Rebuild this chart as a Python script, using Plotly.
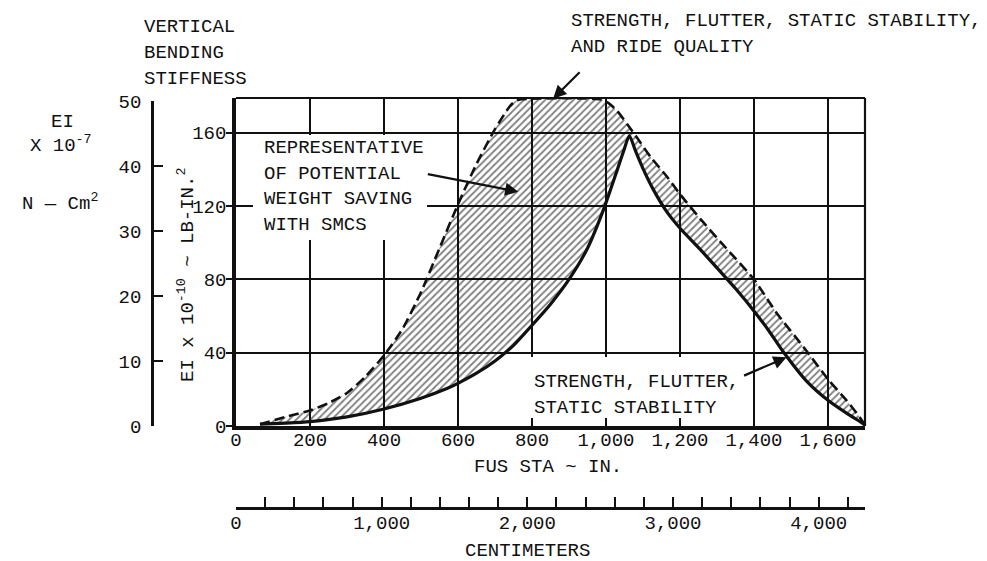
import plotly.graph_objects as go

# ---- data -------------------------------------------------------------
# Fuselage station (in) vs. vertical bending stiffness EI (x 10^-10 lb-in^2)
# Upper envelope: strength, flutter, static stability and ride quality
sta_upper = [65, 135, 200, 250, 300, 350, 400, 450, 500, 550, 600, 650, 700, 740, 755,
             770, 985, 1005, 1030, 1060, 1085, 1120, 1165, 1200, 1255, 1325, 1400,
             1460, 1540, 1600, 1650, 1685, 1700]
ei_upper = [1.0, 5.0, 8.5, 12.5, 18.0, 27.0, 38.5, 53.0, 73.0, 97.0, 121.0, 143.0,
            162.0, 174.5, 177.3, 178.3, 178.3, 176.5, 172.0, 164.0, 157.0, 147.0,
            136.0, 126.5, 113.0, 97.0, 80.0, 62.0, 41.5, 25.5, 14.0, 5.0, 0.5]

# Lower envelope: strength, flutter, static stability
sta_lower = [65, 135, 200, 300, 400, 500, 570, 600, 650, 700, 750, 800, 850, 900,
             950, 995, 1030, 1050, 1063, 1080, 1100, 1128, 1164, 1202, 1254, 1308,
             1350, 1403, 1440, 1479, 1542, 1600, 1650, 1690, 1700]
ei_lower = [1.0, 1.6, 2.4, 5.0, 9.3, 15.2, 20.5, 23.3, 28.8, 35.5, 44.0, 55.0, 66.5,
            80.0, 97.0, 119.0, 139.5, 151.5, 158.5, 150.0, 140.5, 129.0, 117.0, 107.5,
            96.5, 84.5, 75.0, 62.0, 52.0, 40.5, 24.5, 14.0, 7.0, 2.0, 0.5]

sta_ticks = [0, 200, 400, 600, 800, 1000, 1200, 1400, 1600]
ei_ticks = [0, 40, 80, 120, 160]
ei_si_ticks = [0, 10, 20, 30, 40, 50]
cm_ticks = list(range(0, 4201, 200))
cm_labelled = [0, 1000, 2000, 3000, 4000]

STA_MAX = 1700          # in
EI_MAX = 179            # x 10^-10 lb-in^2
EI_SI_MAX = 50          # x 10^-7 N-cm^2, at EI_SI_TOP on the lb-in^2 scale
EI_SI_TOP = 177.3
IN_TO_CM = 2.54

# arrow targets (station, EI)
tip_ride = (857, 178.6)
tip_saving = (763, 127.8)
tip_strength = (1488, 37.5)

# ---- page geometry (px) ----------------------------------------------
W, H = 987, 561
ML, MR, MT, MB = 152, 122, 98, 53
PW, PH = W - ML - MR, H - MT - MB
PLOT_L, PLOT_B = 236, 426


def px(x):
    return (x - ML) / PW


def py(y):
    return (H - MB - y) / PH


FONT = "Liberation Mono"
FS = 19
INK = "#111111"
CLEAR = "rgba(255,255,255,0)"

fig = go.Figure()

# hatched band between the two envelopes
fig.add_trace(go.Scatter(
    x=sta_upper + sta_lower[::-1], y=ei_upper + ei_lower[::-1],
    mode="lines", fill="toself", line=dict(width=0, shape="spline", smoothing=0.6),
    fillcolor=CLEAR,
    fillpattern=dict(shape="/", fgcolor="black", bgcolor=CLEAR,
                     size=5, solidity=0.36),
    hoverinfo="skip", showlegend=False))

fig.add_trace(go.Scatter(
    x=sta_upper, y=ei_upper, mode="lines",
    line=dict(color=INK, width=2.6, dash="10px,5px", shape="spline", smoothing=0.6),
    showlegend=False, hoverinfo="skip"))

fig.add_trace(go.Scatter(
    x=sta_lower, y=ei_lower, mode="lines",
    line=dict(color=INK, width=3.2, shape="spline", smoothing=0.6),
    showlegend=False, hoverinfo="skip"))

# carriers for the secondary scales
fig.add_trace(go.Scatter(x=[0, STA_MAX], y=[0, EI_SI_MAX], yaxis="y2", mode="markers",
                         marker=dict(opacity=0), hoverinfo="skip", showlegend=False))
fig.add_trace(go.Scatter(x=[0, STA_MAX * IN_TO_CM], y=[0, 0], xaxis="x2", mode="markers",
                         marker=dict(opacity=0), hoverinfo="skip", showlegend=False))

x_dom = [px(PLOT_L), 1]
y_dom = [py(PLOT_B), 1]
y2_top = y_dom[0] + (y_dom[1] - y_dom[0]) * EI_SI_TOP / EI_MAX

tickfont = dict(family=FONT, size=FS, color=INK)

fig.update_layout(
    width=W, height=H,
    margin=dict(l=ML, r=MR, t=MT, b=MB, autoexpand=False),
    paper_bgcolor="white", plot_bgcolor=CLEAR,
    font=dict(family=FONT, size=FS, color=INK),
    xaxis=dict(domain=x_dom, range=[0, STA_MAX], tickvals=sta_ticks, tickformat=",d",
               showgrid=True, gridcolor=INK, gridwidth=1.6,
               showline=True, linecolor=INK, linewidth=3.5,
               ticks="", ticklabelstandoff=-7, tickfont=tickfont,
               zeroline=False, anchor="y"),
    yaxis=dict(domain=y_dom, range=[0, EI_MAX], tickvals=ei_ticks,
               showgrid=True, gridcolor=INK, gridwidth=1.6,
               showline=True, linecolor=INK, linewidth=3.5,
               ticks="outside", ticklen=6, tickwidth=2, tickcolor=INK,
               ticklabelstandoff=-4,
               tickfont=tickfont, zeroline=False, anchor="x"),
    yaxis2=dict(domain=[y_dom[0], y2_top], range=[0, EI_SI_MAX], tickvals=ei_si_ticks,
                anchor="free", position=0, side="left",
                showgrid=False, zeroline=False,
                showline=True, linecolor=INK, linewidth=2.8,
                ticks="inside", ticklen=9, tickwidth=2, tickcolor=INK,
                ticklabelstandoff=6, tickfont=tickfont),
    xaxis2=dict(overlaying="x", anchor="free", position=0, side="bottom",
                range=[0, STA_MAX * IN_TO_CM], tickvals=cm_ticks,
                ticktext=[f"{v:,}" if v in cm_labelled else "" for v in cm_ticks],
                showgrid=False, zeroline=False,
                showline=True, linecolor=INK, linewidth=3,
                ticks="inside", ticklen=10, tickwidth=1.8, tickcolor=INK,
                ticklabelstandoff=-4, tickfont=tickfont),
)

# thinner top/right frame
fig.add_shape(type="line", xref="x domain", yref="y domain", x0=0, x1=1, y0=1, y1=1,
              line=dict(color=INK, width=2.2), layer="above")
fig.add_shape(type="line", xref="x domain", yref="y domain", x0=1, x1=1, y0=0, y1=1,
              line=dict(color=INK, width=2.2), layer="above")

# white backing behind the callout texts
for (x0, y0, x1, y1) in [(253, 135, 427, 240), (527, 357, 747, 418)]:
    fig.add_shape(type="rect", xref="paper", yref="paper",
                  x0=px(x0), x1=px(x1), y0=py(y1), y1=py(y0),
                  fillcolor="white", line=dict(width=0), layer="above")


def label(text, x, y, xanchor="left", angle=0):
    fig.add_annotation(text=text, xref="paper", yref="paper", x=px(x), y=py(y),
                       xanchor=xanchor, yanchor="middle", showarrow=False,
                       textangle=angle, font=dict(family=FONT, size=FS, color=INK))


for i, t in enumerate(["VERTICAL", "BENDING", "STIFFNESS"]):
    label(t, 142, 27 + 26 * i)
label("EI", 62, 122, "center")
label("X 10<sup>-7</sup>", 61, 144, "center")
label("N — Cm<sup>2</sup>", 60, 202, "center")
label("EI x 10<sup>-10</sup> ~ LB-IN.<sup>2</sup>", 186, 275, "center", -90)
label("FUS STA ~ IN.", 548, 467, "center")
label("CENTIMETERS", 527, 551, "center")

label("STRENGTH, FLUTTER, STATIC STABILITY,", 569, 21)
label("AND RIDE QUALITY", 569, 47)
for i, t in enumerate(["REPRESENTATIVE", "OF POTENTIAL", "WEIGHT SAVING", "WITH SMCS"]):
    label(t, 262, 148 + 25.7 * i)
label("STRENGTH, FLUTTER,", 532, 382)
label("STATIC STABILITY", 532, 408)


def arrow(tip, ax, ay):
    fig.add_annotation(x=tip[0], y=tip[1], xref="x", yref="y", text="",
                       showarrow=True, ax=ax, ay=ay, arrowhead=2, arrowsize=1.2,
                       arrowwidth=2.2, arrowcolor=INK, standoff=0)


arrow(tip_ride, 28, -28)
arrow(tip_saving, -92, -18)
arrow(tip_strength, -44, 19)

fig.write_html("out.html")
